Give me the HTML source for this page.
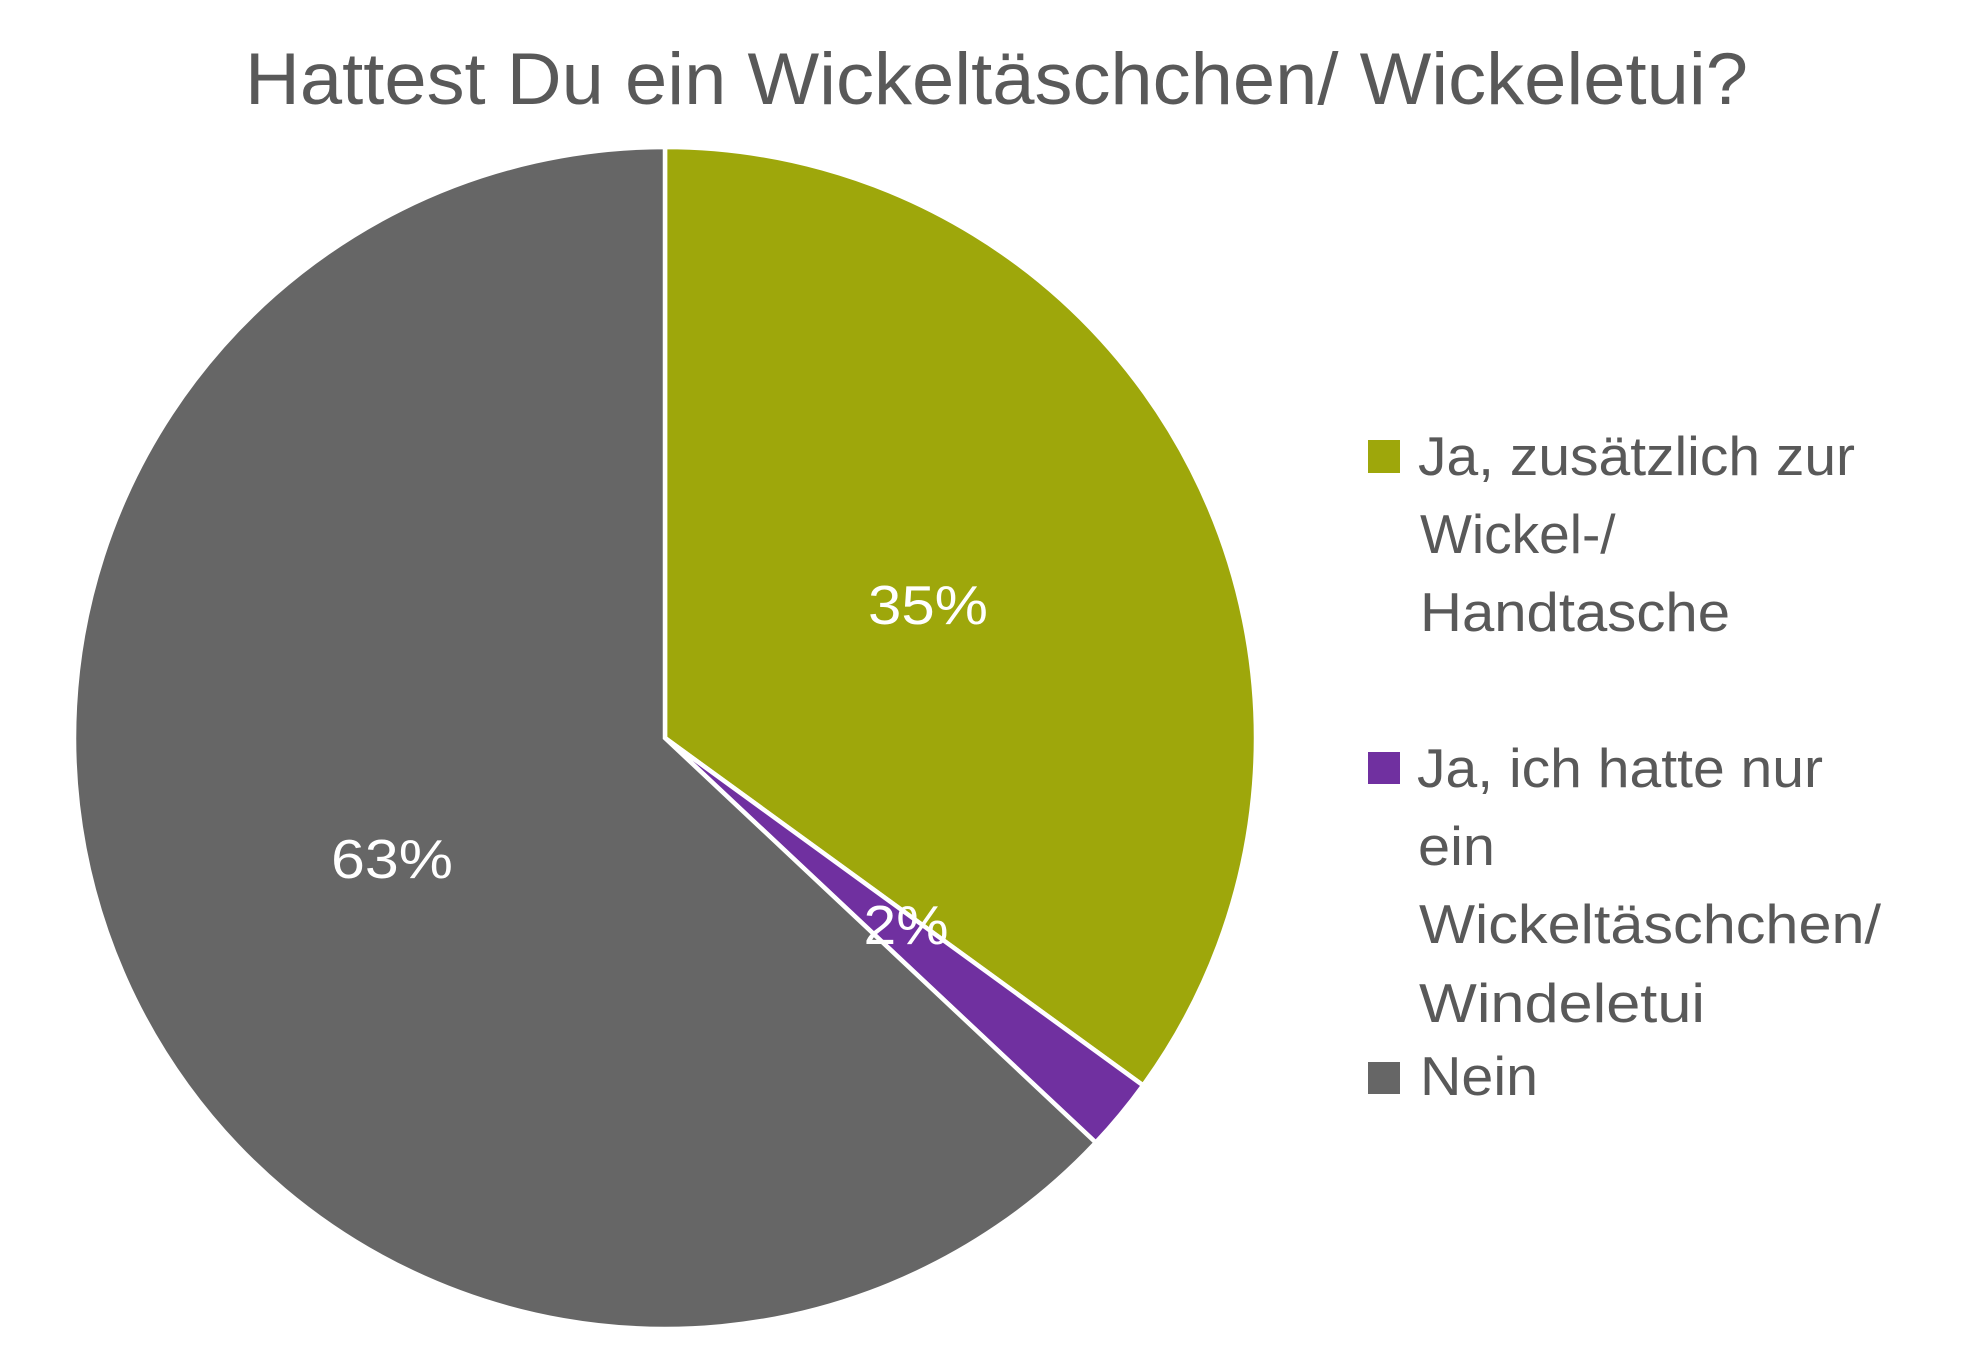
<!DOCTYPE html>
<html>
<head>
<meta charset="utf-8">
<style>
  html, body { margin:0; padding:0; background:#ffffff; }
  svg { display:block; }
  text { font-family: "Liberation Sans", "DejaVu Sans", sans-serif; }
</style>
</head>
<body>
<svg width="1970" height="1350" viewBox="0 0 1970 1350" xmlns="http://www.w3.org/2000/svg">
  <rect x="0" y="0" width="1970" height="1350" fill="#ffffff"/>

  <!-- Title -->
  <text x="245" y="104" font-size="73" fill="#595959" textLength="1503" lengthAdjust="spacingAndGlyphs">Hattest Du ein Wickeltäschchen/ Wickeletui?</text>

  <!-- Pie -->
  <g stroke="#ffffff" stroke-width="4.5" stroke-linejoin="miter">
    <path d="M665,738 L665,147 A591,591 0 0 1 1143.1,1085.4 Z" fill="#9EA70B"/>
    <path d="M665,738 L1143.1,1085.4 A591,591 0 0 1 1095.8,1142.6 Z" fill="#7030A0"/>
    <path d="M665,738 L1095.8,1142.6 A591,591 0 1 1 665,147 Z" fill="#666666"/>
  </g>

  <!-- Data labels -->
  <g fill="#ffffff" font-size="55" text-anchor="middle">
    <text x="928" y="624" textLength="120" lengthAdjust="spacingAndGlyphs">35%</text>
    <text x="906" y="944" textLength="85" lengthAdjust="spacingAndGlyphs">2%</text>
    <text x="392" y="878" textLength="122" lengthAdjust="spacingAndGlyphs">63%</text>
  </g>

  <!-- Legend -->
  <rect x="1368" y="440" width="32" height="33" fill="#9EA70B"/>
  <rect x="1368" y="752" width="32" height="32" fill="#7030A0"/>
  <rect x="1368" y="1062" width="32" height="32" fill="#666666"/>

  <g fill="#595959" font-size="55">
    <text x="1418" y="475" textLength="437" lengthAdjust="spacingAndGlyphs">Ja, zusätzlich zur</text>
    <text x="1420" y="553">Wickel-/</text>
    <text x="1420" y="631" textLength="310" lengthAdjust="spacingAndGlyphs">Handtasche</text>

    <text x="1417" y="787" textLength="406" lengthAdjust="spacingAndGlyphs">Ja, ich hatte nur</text>
    <text x="1418" y="865" textLength="77" lengthAdjust="spacingAndGlyphs">ein</text>
    <text x="1419" y="943" textLength="462" lengthAdjust="spacingAndGlyphs">Wickeltäschchen/</text>
    <text x="1419" y="1022" textLength="286" lengthAdjust="spacingAndGlyphs">Windeletui</text>

    <text x="1420" y="1095" textLength="118" lengthAdjust="spacingAndGlyphs">Nein</text>
  </g>
</svg>
</body>
</html>
